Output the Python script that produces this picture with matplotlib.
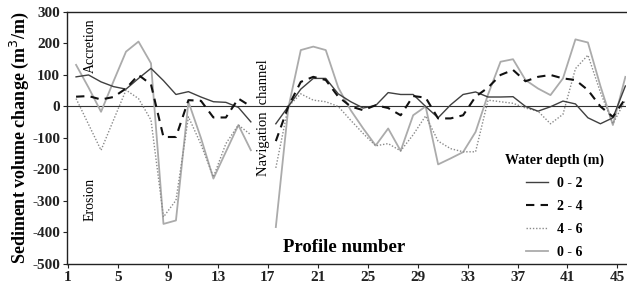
import numpy as np
import matplotlib
matplotlib.use("Agg")
import matplotlib.pyplot as plt

nan = np.nan
# profile numbers (gap at the navigation channel)
profiles = list(range(2, 47))

depth_0_2 = [94, 100, 78, 63, 55, 89, 121, 82, 38, 47, 30, 15, 13, -3, -49, nan,
             -55, 0, 55, 89, 89, 40, 15, -5, 3, 44, 38, 38, 0, -36, 5, 38, 46, 30, 30,
             31, 0, -15, -1, 17, 8, -36, -55, -36, 65]
depth_2_4 = [31, 33, 22, 30, 57, 100, 70, -97, -97, 20, 18, -35, -35, 25, 0, nan,
             -110, 0, 78, 94, 84, 31, 0, -12, 4, -5, -28, 33, 28, -38, -38, -28, 31, 60,
             100, 116, 80, 94, 100, 89, 84, 52, 0, -33, 25]
depth_4_6 = [25, -57, -139, -43, 52, 25, -43, -351, -298, -33, -120, -224, -118, -59, -90, nan,
             -195, 0, 40, 20, 15, 0, -44, -86, -125, -118, -141, -90, -30, -110, -134, -144,
             -144, 20, 15, 10, -5, -15, -55, -25, 120, 163, 45, -55, 20]
depth_0_6 = [132, 60, -17, 80, 174, 206, 137, -373, -362, 15, -100, -229, -144, -59, -139, nan,
             -383, -5, 179, 190, 179, 60, -12, -70, -124, -70, -141, -28, 0, -184, -165, -145,
             -81, 38, 142, 150, 84, 57, 36, 89, 213, 203, 65, -59, 94]

series_labels = ["0 - 2", "2 - 4", "4 - 6", "0 - 6"]
xtick_labels = [1, 5, 9, 13, 17, 21, 25, 29, 33, 37, 41, 45]
ytick_values = [300, 200, 100, 0, -100, -200, -300, -400, -500]

plt.rcParams['font.family'] = ['Liberation Serif', 'DejaVu Serif']
plt.rcParams['axes.unicode_minus'] = False

fig = plt.figure(figsize=(6.27, 2.85), dpi=100)
ax = fig.add_axes([0.107, 0.074, 0.892, 0.884])

tick_shift = 0.36

ax.plot(profiles, depth_0_6, color='#ababab', lw=1.3, ls='-', label=series_labels[3], zorder=2)
ax.plot(profiles, depth_4_6, color='#8a8a8a', lw=1.0, ls=(0, (1, 1.3)), label=series_labels[2], zorder=3)
ax.plot(profiles, depth_0_2, color='#404040', lw=1.0, ls='-', label=series_labels[0], zorder=4)
ax.plot(profiles, depth_2_4, color='#111111', lw=1.5, ls=(0, (4, 3)), label=series_labels[1], zorder=5)

ax.axhline(0, color='#333333', lw=0.8, zorder=1)

ax.set_xlim(1.28, 46.08)
ax.set_ylim(-500, 300)
ax.set_xticks([v + tick_shift for v in xtick_labels])
ax.set_xticklabels([str(v) for v in xtick_labels])
ax.set_yticks(ytick_values)
ax.set_yticklabels([str(v) for v in ytick_values])
for lab in ax.get_xticklabels() + ax.get_yticklabels():
    lab.set_fontweight('bold')
    lab.set_fontsize(11)
ax.tick_params(axis='both', direction='out', length=3, width=0.8, pad=2, colors='#222222')
ax.spines['right'].set_visible(False)
for s in ['left', 'bottom', 'top']:
    ax.spines[s].set_linewidth(1.0)
    ax.spines[s].set_color('#222222')

ax.set_ylabel('Sediment volume change (m$^3$/m)', fontsize=13, fontweight='bold', labelpad=1)
ax.text(0.496, 0.067, 'Profile number', transform=ax.transAxes, ha='center', va='center',
        fontsize=13.5, fontweight='bold')

ax.text(0.041, 0.865, 'Accretion', transform=ax.transAxes, rotation=90, ha='center', va='center', fontsize=10)
ax.text(0.041, 0.254, 'Erosion', transform=ax.transAxes, rotation=90, ha='center', va='center', fontsize=10)
ax.text(0.352, 0.58, 'Navigation  channel', transform=ax.transAxes, rotation=90, ha='center', va='center',
        fontsize=10.5)

h, l = ax.get_legend_handles_labels()
order = [l.index(s) for s in series_labels]
leg = ax.legend([h[i] for i in order], [l[i] for i in order], title='Water depth (m)',
                loc='lower left', bbox_to_anchor=(0.76, -0.03), frameon=False,
                prop={'weight': 'bold', 'size': 10}, handlelength=1.6, handletextpad=0.6,
                labelspacing=0.72)
leg.get_title().set_fontweight('bold')
leg.get_title().set_fontsize(10)

fig.savefig('out.png', dpi=100)
